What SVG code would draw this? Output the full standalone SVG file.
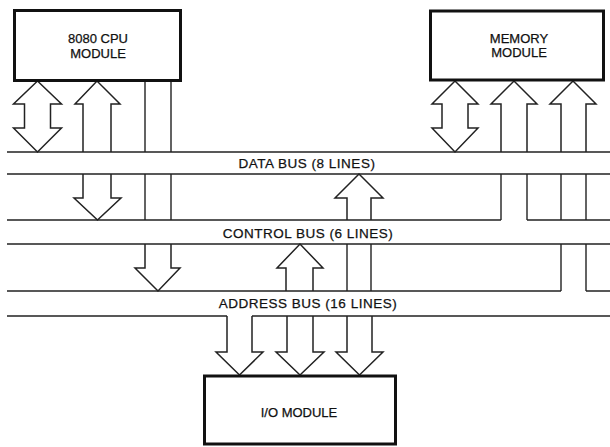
<svg xmlns="http://www.w3.org/2000/svg" width="610" height="447" viewBox="0 0 610 447">
<style>
.box{fill:#fff;stroke:#111;stroke-width:3}
.lbl{font-family:"Liberation Sans",Arial,Helvetica,sans-serif;font-size:13px;fill:#111;stroke:#111;stroke-width:0.25;text-anchor:middle}
.bus{font-family:"Liberation Sans",Arial,Helvetica,sans-serif;font-size:13.5px;letter-spacing:0.5px;fill:#111;stroke:#111;stroke-width:0.25;text-anchor:middle}
.ln{fill:none;stroke:#222;stroke-width:1.4}
.ar{fill:#fff;stroke:#222;stroke-width:1.5;stroke-linejoin:miter}
</style>
<rect width="610" height="447" fill="#fff"/>
<g id="connectors">
<!-- CPU -->
<path class="ar" d="M37.5,81L61.5,104H50.5V128H61.5L37.5,152L13.5,128H24.5V104H13.5Z"/>
<path class="ar" d="M83,152V104H75L97,81L120,104H111V152"/>
<path class="ar" d="M83,174V198H74L97.5,220L121,198H111V174"/>
<path class="ln" d="M145,81V152M171,81V152M145,174V220M171,174V220"/>
<path class="ar" d="M145,244V268H135L158,291L180,268H171V244"/>
<!-- Memory -->
<path class="ar" d="M455,81L478,104H468V128H478L455,152L432,128H442V104H432Z"/>
<path class="ar" d="M501,152V104H491L514,81L537,104H527V152"/>
<path class="ln" d="M501,174V220M527,174V220"/>
<path class="ar" d="M561,152V104H550L573,81L596,104H586V152"/>
<path class="ln" d="M561,174V220M586,174V220M561,244V291M586,244V291"/>
<!-- middle -->
<path class="ar" d="M347,220V198H335L359,174L383,198H371V220"/>
<path class="ln" d="M347,244V291M371,244V291"/>
<path class="ar" d="M286,291V268H277L300,244L323,268H313V291"/>
<!-- I/O -->
<path class="ar" d="M227,316V352H216L239.5,375L263,352H252V316"/>
<path class="ar" d="M287,316V352H276L300,375L324,352H313V316"/>
<path class="ar" d="M347,316V352H336L359.5,375L383,352H372V316"/>
</g>
<g id="data-bus">
<path class="ln" d="M7,152H610M7,174H610"/>
<text class="bus" x="307" y="168">DATA BUS (8 LINES)</text>
</g>
<g id="control-bus">
<path class="ln" d="M7,220H501M527,220H610M7,244H610"/>
<text class="bus" x="308" y="238">CONTROL BUS (6 LINES)</text>
</g>
<g id="address-bus">
<path class="ln" d="M7,291H561M586,291H610M7,316H227M252,316H610"/>
<text class="bus" x="308" y="308">ADDRESS BUS (16 LINES)</text>
</g>
<g id="cpu">
<rect class="box" x="14.5" y="10.5" width="166" height="70"/>
<text class="lbl" x="98" y="43">8080 CPU</text>
<text class="lbl" x="98" y="58">MODULE</text>
</g>
<g id="memory">
<rect class="box" x="430.5" y="11" width="173" height="69"/>
<text class="lbl" x="519" y="43">MEMORY</text>
<text class="lbl" x="519" y="57">MODULE</text>
</g>
<g id="io">
<rect class="box" x="204.5" y="376" width="191" height="68"/>
<text class="lbl" x="299" y="417">I/O MODULE</text>
</g>
</svg>
